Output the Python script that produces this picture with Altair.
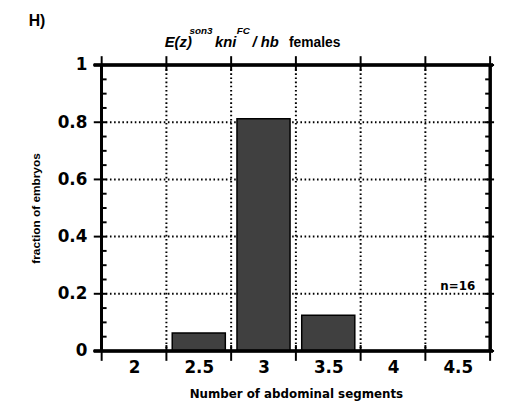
import altair as alt
import pandas as pd

# ---- data ----
categories = [2, 2.5, 3, 3.5, 4, 4.5]
fractions = [0.0, 0.0625, 0.8125, 0.125, 0.0, 0.0]
y_major = [0, 0.2, 0.4, 0.6, 0.8, 1.0]
y_minor = [0.05, 0.1, 0.15, 0.25, 0.3, 0.35, 0.45, 0.5, 0.55,
           0.65, 0.7, 0.75, 0.85, 0.9, 0.95]
y_grid = [0.2, 0.4, 0.6, 0.8]
x_bounds = [1.75, 2.25, 2.75, 3.25, 3.75, 4.25, 4.75]
x_grid = [2.25, 2.75, 3.25, 3.75, 4.25]
n_label = ["n=16"]
n_pos_x = [4.5]
n_pos_y = [0.215]

W, H = 394, 290
FONT = "Liberation Sans"
WIDE = "DejaVu Sans"

xs = alt.Scale(domain=[1.75, 4.75], nice=False, zero=False)
ys = alt.Scale(domain=[0, 1], nice=False)

x_axis = alt.Axis(values=categories, format="~g", ticks=False, domain=False,
                  grid=False, labelFont=WIDE, labelFontSize=17,
                  labelFontWeight="bold", labelColor="black", labelPadding=9,
                  titleFont=WIDE, titleFontSize=12, titleFontWeight="bold",
                  titleColor="black", titlePadding=13)
y_axis = alt.Axis(values=y_major, format="~g", ticks=False, domain=False,
                  grid=False, labelFont=WIDE, labelFontSize=17,
                  labelFontWeight="bold", labelColor="black", labelPadding=15,
                  titleFont=FONT, titleFontSize=12, titleFontWeight="bold",
                  titleColor="black", titlePadding=15)
X_TITLE = "Number of abdominal segments"
Y_TITLE = "fraction of embryos"


def X(field):
    return alt.X(field, scale=xs, axis=x_axis, title=X_TITLE)


def Y(field):
    return alt.Y(field, scale=ys, axis=y_axis, title=Y_TITLE)


bars_df = pd.DataFrame({"segments": categories, "fraction": fractions})
ymaj_df = pd.DataFrame({"v": y_major})
ymin_df = pd.DataFrame({"v": y_minor})
ygrid_df = pd.DataFrame({"v": y_grid})
xb_df = pd.DataFrame({"v": x_bounds})
xgrid_df = pd.DataFrame({"v": x_grid})
n_df = pd.DataFrame({"label": n_label, "x": n_pos_x, "y": n_pos_y})

dot = dict(color="black", strokeWidth=2, strokeDash=[1.6, 2.6])

vgrid = alt.Chart(xgrid_df).mark_rule(**dot).encode(
    x=X("v:Q"), y=alt.value(0), y2=alt.value(H))
hgrid = alt.Chart(ygrid_df).mark_rule(**dot).encode(
    y=Y("v:Q"), x=alt.value(0), x2=alt.value(W))

bars = alt.Chart(bars_df).transform_calculate(
    left="datum.segments - 0.205", right="datum.segments + 0.205"
).mark_bar(fill="#404040", stroke="black", strokeWidth=1.5).encode(
    x=X("left:Q"), x2="right:Q",
    y=Y("fraction:Q"), y2=alt.datum(0),
)

frame_w = 2.5
left_axis = alt.Chart(ymaj_df).mark_rule(color="black", strokeWidth=frame_w).encode(
    x=alt.value(0), y=alt.value(0), y2=alt.value(H))
right_axis = alt.Chart(ymaj_df).mark_rule(color="black", strokeWidth=frame_w).encode(
    x=alt.value(W), y=alt.value(0), y2=alt.value(H))
top_axis = alt.Chart(ymaj_df).mark_rule(color="black", strokeWidth=frame_w).encode(
    y=alt.value(0), x=alt.value(-8), x2=alt.value(W + 3))
bottom_axis = alt.Chart(ymaj_df).mark_rule(color="black", strokeWidth=frame_w).encode(
    y=alt.value(H), x=alt.value(-8), x2=alt.value(W + 3))

tick = dict(color="black", strokeWidth=2)
l_major = alt.Chart(ymaj_df).mark_rule(**tick).encode(
    y=Y("v:Q"), x=alt.value(-8), x2=alt.value(5))
l_minor = alt.Chart(ymin_df).mark_rule(**tick).encode(
    y=Y("v:Q"), x=alt.value(0), x2=alt.value(5))
r_major = alt.Chart(ymaj_df).mark_rule(**tick).encode(
    y=Y("v:Q"), x=alt.value(W - 6), x2=alt.value(W + 4))
r_minor = alt.Chart(ymin_df).mark_rule(**tick).encode(
    y=Y("v:Q"), x=alt.value(W - 5), x2=alt.value(W))
t_ticks = alt.Chart(xb_df).mark_rule(**tick).encode(
    x=X("v:Q"), y=alt.value(-9), y2=alt.value(6))
b_ticks = alt.Chart(xb_df).mark_rule(**tick).encode(
    x=X("v:Q"), y=alt.value(H - 6), y2=alt.value(H + 10))

n_text = alt.Chart(n_df).mark_text(
    font=WIDE, fontSize=12, fontWeight="bold", color="black", align="center",
    baseline="alphabetic").encode(
    x=X("x:Q"), y=Y("y:Q"), text="label:N")


def txt(s, x, y, size, italic=True):
    return alt.Chart(ymaj_df.head(1)).mark_text(
        text=s, font=FONT, fontSize=size, fontWeight="bold",
        fontStyle="italic" if italic else "normal", color="black",
        align="left", baseline="alphabetic").encode(x=alt.value(x), y=alt.value(y))


title_parts = [
    txt("H)", -74, -40, 16, italic=False),
    txt("E(z)", 64, -18, 15),
    txt("son3", 89, -31, 10),
    txt("kni", 115, -18, 15),
    txt("FC", 137, -31, 10),
    txt("/ hb", 153, -18, 15),
    txt("females", 190, -18, 14, italic=False),
]

chart = alt.layer(
    vgrid, hgrid, bars,
    left_axis, right_axis, top_axis, bottom_axis,
    l_major, l_minor, r_major, r_minor, t_ticks, b_ticks,
    n_text, *title_parts,
).properties(
    width=W, height=H,
    autosize=alt.AutoSizeParams(type="none"),
    padding={"left": 95, "top": 55, "right": 8, "bottom": 57},
).configure_view(stroke=None).configure(background="white")

chart.save("out.html", embed_options={"renderer": "svg", "actions": False})
